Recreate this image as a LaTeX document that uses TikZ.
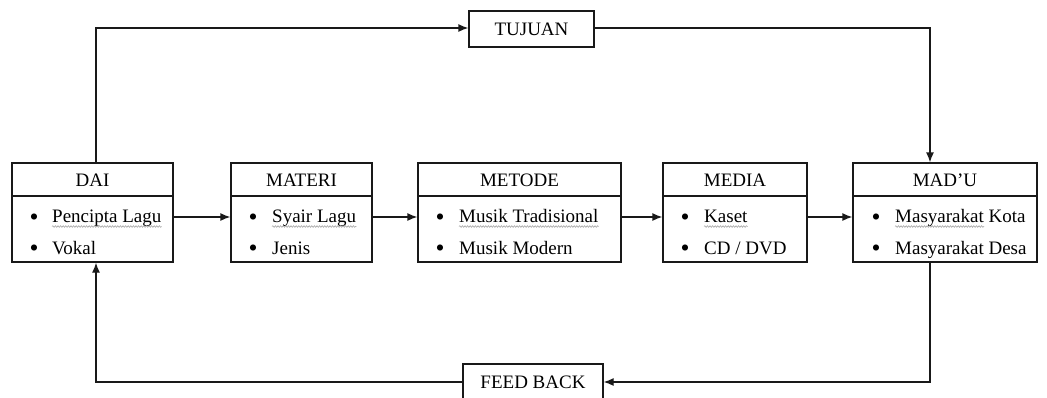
\documentclass[tikz,border=0pt]{standalone}
\usepackage{fontspec}
\setmainfont{Liberation Serif}
\usetikzlibrary{arrows.meta,decorations.pathmorphing}
\newcommand{\fnt}{\fontsize{19pt}{23pt}\selectfont}
\newcommand{\bigbul}{\raisebox{-2.8pt}{\scalebox{1.35}{\textbullet}}}
\begin{document}
\begin{tikzpicture}[x=1pt,y=-1pt,
  line/.style={draw=black!90,line width=1.3pt},
  arr/.style={line,-{Latex[length=10pt,width=8pt]}},
  box/.style={line,minimum width=#1,minimum height=99pt,inner sep=0pt},
  sbox/.style={line,inner sep=0pt,font=\fnt},
  txt/.style={inner sep=0pt,anchor=base west,font=\fnt},
  ttl/.style={inner sep=0pt,anchor=base,font=\fnt},
  bul/.style={inner sep=0pt,anchor=base,font=\fnt},
  squig/.style={draw=gray!70,line width=0.6pt,decorate,decoration={snake,amplitude=0.8pt,segment length=2.6pt}}
]
\useasboundingbox (0,0) rectangle (1047,397);
\clip (0,0) rectangle (1047,397);
\fill[white] (0,0) rectangle (1047,397);

\coordinate (hl) at (0,196);

% main boxes
\node[box=161pt] (dai) at (92.5,212.5) {};
\node[box=141pt] (materi) at (301.5,212.5) {};
\node[box=203pt] (metode) at (519.5,212.5) {};
\node[box=144pt] (media) at (735,212.5) {};
\node[box=184pt] (madu) at (945,212.5) {};

\foreach \b in {dai,materi,metode,media,madu}
  \draw[line] (\b.west |- hl) -- (\b.east |- hl);

% titles
\node[ttl] (daiT) at (92.5,186) {DAI};
\node[ttl] (materiT) at (301.5,186) {MATERI};
\node[ttl] (metodeT) at (519.5,186) {METODE};
\node[ttl] (mediaT) at (735,186) {MEDIA};
\node[ttl] (maduT) at (945,186) {MAD’U};

% DAI items
\node[bul] (b11) at (34,222.5) {\bigbul};
\node[txt] (d1) at (52,222.5) {Pencipta Lagu};
\node[bul] (b12) at (34,254) {\bigbul};
\node[txt] (d2) at (52,254) {Vokal};
\draw[squig] ([yshift=-4pt]d1.base west) -- ([yshift=-4pt]d1.base east);

% MATERI items
\node[bul] (b21) at (253,222.5) {\bigbul};
\node[txt] (m1) at (272,222.5) {Syair Lagu};
\node[bul] (b22) at (253,254) {\bigbul};
\node[txt] (m2) at (272,254) {Jenis};
\draw[squig] ([yshift=-4pt]m1.base west) -- ([yshift=-4pt]m1.base east);

% METODE items
\node[bul] (b31) at (440,222.5) {\bigbul};
\node[txt] (t1) at (459,222.5) {Musik Tradisional};
\node[bul] (b32) at (440,254) {\bigbul};
\node[txt] (t2) at (459,254) {Musik Modern};
\draw[squig] ([yshift=-4pt]t1.base west) -- ([yshift=-4pt]t1.base east);

% MEDIA items
\node[bul] (b41) at (685,222.5) {\bigbul};
\node[txt] (e1) at (704,222.5) {Kaset};
\node[bul] (b42) at (685,254) {\bigbul};
\node[txt] (e2) at (704,254) {CD / DVD};
\draw[squig] ([yshift=-4pt]e1.base west) -- ([yshift=-4pt]e1.base east);

% MAD'U items
\node[bul] (b51) at (876,222.5) {\bigbul};
\node[txt] (u1) at (895,222.5) {Masyarakat};
\node[txt] (u1b) at ([xshift=4.5pt]u1.base east) {Kota};
\node[bul] (b52) at (876,254) {\bigbul};
\node[txt] (u2) at (895,254) {Masyarakat Desa};
\draw[squig] ([yshift=-4pt]u1.base west) -- ([yshift=-4pt]u1.base east);

% top and bottom boxes
\node[sbox,minimum width=125pt,minimum height=36pt] (tujuan) at (531.5,29) {TUJUAN};
\node[sbox,minimum width=140pt,minimum height=36pt] (fb) at (533,382) {FEED BACK};

% connectors
\draw[arr] ([yshift=-4.5pt]dai.east) -- ([yshift=-4.5pt]materi.west);
\draw[arr] ([yshift=-4.5pt]materi.east) -- ([yshift=-4.5pt]metode.west);
\draw[arr] ([yshift=-4.5pt]metode.east) -- ([yshift=-4.5pt]media.west);
\draw[arr] ([yshift=-4.5pt]media.east) -- ([yshift=-4.5pt]madu.west);

\draw[arr] ([xshift=3.5pt]dai.north) |- ([yshift=1pt]tujuan.west);
\draw[arr] ([yshift=1pt]tujuan.east) -| ([xshift=-15pt]madu.north);
\draw[arr] ([xshift=-15pt]madu.south) |- (fb.east);
\draw[arr] (fb.west) -| ([xshift=3.5pt]dai.south);
\end{tikzpicture}
\end{document}
